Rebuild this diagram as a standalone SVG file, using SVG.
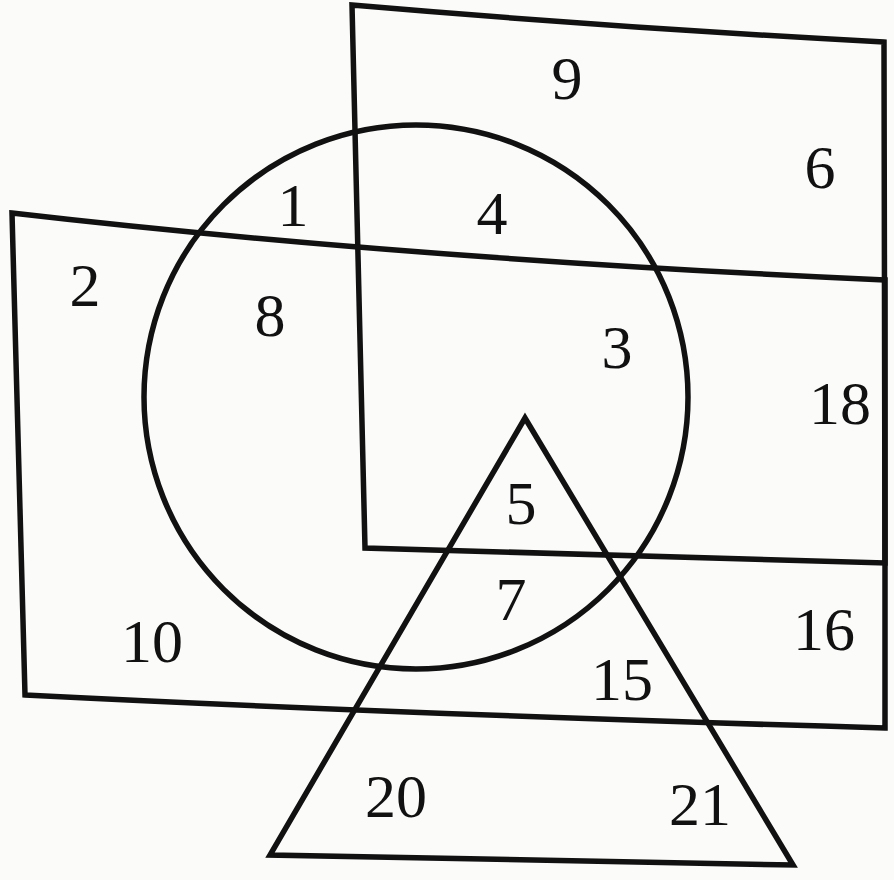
<svg xmlns="http://www.w3.org/2000/svg" width="894" height="880" viewBox="0 0 894 880">
<style>
.s{fill:none;stroke:#111;stroke-width:5.5;stroke-linejoin:miter}
.t{font-family:"Liberation Serif","DejaVu Serif",serif;font-size:62px;fill:#111;text-anchor:middle}
</style>
<rect width="894" height="880" fill="#fbfbfa"/>
<g id="set-top-rect"><path class="s" d="M352,5 Q620,28 884,42 L885,563 Q620,556 365,548 Z"/></g>
<g id="set-left-rect"><path class="s" d="M12,213 Q400,258 885,280 L885,728 Q400,714 25,695 Z"/></g>
<g id="set-circle"><circle class="s" cx="416" cy="397" r="272"/></g>
<g id="set-triangle"><path class="s" d="M525,418 L793,865 L270,855 Z"/></g>
<g id="labels">
<text class="t" x="567" y="99">9</text>
<text class="t" x="820" y="188">6</text>
<text class="t" x="293" y="226">1</text>
<text class="t" x="492" y="234">4</text>
<text class="t" x="85" y="306">2</text>
<text class="t" x="270" y="336">8</text>
<text class="t" x="617" y="368">3</text>
<text class="t" x="840" y="424">18</text>
<text class="t" x="521" y="524">5</text>
<text class="t" x="511" y="620">7</text>
<text class="t" x="152" y="662">10</text>
<text class="t" x="824" y="650">16</text>
<text class="t" x="622" y="700">15</text>
<text class="t" x="396" y="817">20</text>
<text class="t" x="700" y="825">21</text>
</g>
</svg>
